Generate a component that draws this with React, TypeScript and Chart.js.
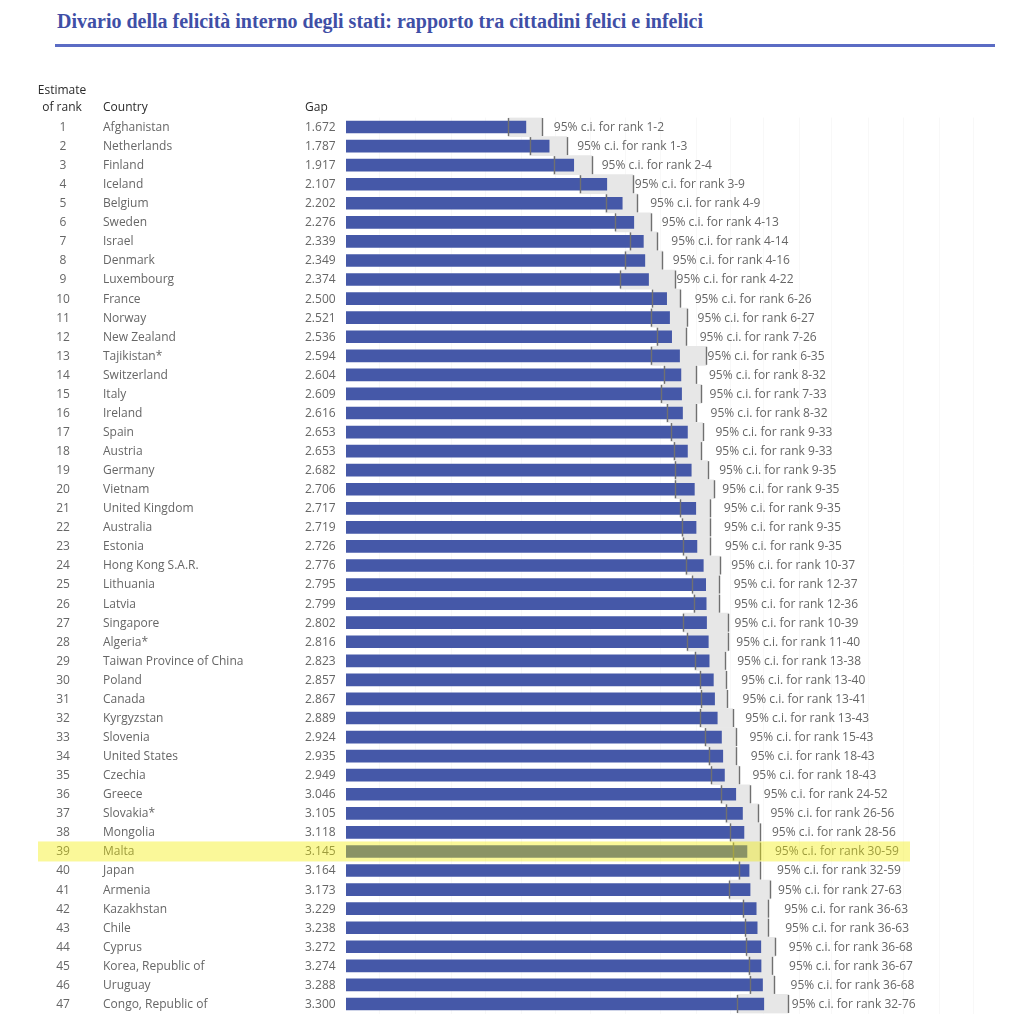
import React, { useEffect, useRef } from "react";
import { Chart, registerables } from "chart.js";

Chart.register(...registerables);

const ranks = [1, 2, 3, 4, 5, 6, 7, 8, 9, 10, 11, 12, 13, 14, 15, 16, 17, 18, 19, 20, 21, 22, 23, 24, 25, 26, 27, 28, 29, 30, 31, 32, 33, 34, 35, 36, 37, 38, 39, 40, 41, 42, 43, 44, 45, 46, 47];

const countries = [
  "Afghanistan", "Netherlands", "Finland", "Iceland", "Belgium", "Sweden", "Israel", "Denmark",
  "Luxembourg", "France", "Norway", "New Zealand", "Tajikistan*", "Switzerland", "Italy", "Ireland",
  "Spain", "Austria", "Germany", "Vietnam", "United Kingdom", "Australia", "Estonia", "Hong Kong S.A.R.",
  "Lithuania", "Latvia", "Singapore", "Algeria*", "Taiwan Province of China", "Poland", "Canada",
  "Kyrgyzstan", "Slovenia", "United States", "Czechia", "Greece", "Slovakia*", "Mongolia", "Malta",
  "Japan", "Armenia", "Kazakhstan", "Chile", "Cyprus", "Korea, Republic of", "Uruguay", "Congo, Republic of",
];

const gaps = [
  1.672, 1.787, 1.917, 2.107, 2.202, 2.276, 2.339, 2.349, 2.374, 2.5, 2.521, 2.536, 2.594, 2.604,
  2.609, 2.616, 2.653, 2.653, 2.682, 2.706, 2.717, 2.719, 2.726, 2.776, 2.795, 2.799, 2.802, 2.816,
  2.823, 2.857, 2.867, 2.889, 2.924, 2.935, 2.949, 3.046, 3.105, 3.118, 3.145, 3.164, 3.173, 3.229,
  3.238, 3.272, 3.274, 3.288, 3.3,
];

const ciLow = [
  1.59, 1.69, 1.81, 1.95, 2.1, 2.16, 2.25, 2.22, 2.19, 2.4, 2.39, 2.43, 2.39, 2.48, 2.46, 2.5,
  2.53, 2.55, 2.56, 2.56, 2.6, 2.61, 2.62, 2.64, 2.69, 2.7, 2.62, 2.65, 2.71, 2.75, 2.76, 2.75,
  2.79, 2.82, 2.84, 2.92, 2.96, 3.0, 3.02, 3.07, 2.99, 3.11, 3.13, 3.14, 3.16, 3.17, 3.06,
];

const ciHigh = [
  1.75, 1.88, 2.02, 2.27, 2.3, 2.39, 2.43, 2.47, 2.56, 2.6, 2.65, 2.64, 2.8, 2.72, 2.76, 2.72,
  2.77, 2.76, 2.81, 2.86, 2.83, 2.83, 2.83, 2.91, 2.9, 2.9, 2.98, 2.98, 2.95, 2.96, 2.97, 3.02,
  3.05, 3.05, 3.07, 3.17, 3.25, 3.26, 3.26, 3.26, 3.36, 3.34, 3.34, 3.41, 3.38, 3.4, 3.54,
];

const rankLow = [
  1, 1, 2, 3, 4, 4, 4, 4, 4, 6, 6, 7, 6, 8, 7, 8, 9, 9, 9, 9, 9, 9, 9, 10, 12, 12, 10, 11, 13, 13,
  13, 13, 15, 18, 18, 24, 26, 28, 30, 32, 27, 36, 36, 36, 36, 36, 32,
];

const rankHigh = [
  2, 3, 4, 9, 9, 13, 14, 16, 22, 26, 27, 26, 35, 32, 33, 32, 33, 33, 35, 35, 35, 35, 35, 37, 37, 36,
  39, 40, 38, 40, 41, 43, 43, 43, 43, 52, 56, 56, 59, 59, 63, 63, 63, 68, 67, 68, 76,
];

const gridValues = [1.1, 1.22, 1.35, 1.49, 1.65, 1.82, 2.01, 2.22, 2.46, 2.72, 3.0, 3.3, 3.65, 4.0, 4.45, 4.92, 5.45, 6.0];

const highlightCountry = "Malta";
const TITLE = "Divario della felicità interno degli stati: rapporto tra cittadini felici e infelici";

const SANS = '"Open Sans", "Noto Sans", sans-serif';
const BAR_BLUE = "#4558a8";
const BAND_GRAY = "#e7e7e7";

const tablePlugin = {
  id: "tableText",
  afterDatasetsDraw(chart: any) {
    const ctx = chart.ctx as CanvasRenderingContext2D;
    const xs = chart.scales.x;
    const ys = chart.scales.y;
    ctx.save();

    // CI tick marks
    ctx.strokeStyle = "#707070";
    ctx.lineWidth = 1.4;
    for (let i = 0; i < gaps.length; i++) {
      const yc = ys.getPixelForValue(i);
      for (const v of [ciLow[i], ciHigh[i]]) {
        const px = Math.round(xs.getPixelForValue(v)) + 0.5;
        ctx.beginPath();
        ctx.moveTo(px, yc - 9);
        ctx.lineTo(px, yc + 9);
        ctx.stroke();
      }
    }

    // CI labels
    ctx.font = `12px ${SANS}`;
    ctx.textBaseline = "middle";
    ctx.fillStyle = "#666666";
    ctx.textAlign = "left";
    for (let i = 0; i < gaps.length; i++) {
      const yc = ys.getPixelForValue(i);
      const px = xs.getPixelForValue(gaps[i]) + 28;
      ctx.fillText(`95% c.i. for rank ${rankLow[i]}-${rankHigh[i]}`, px, yc + 0.5);
    }

    // table columns
    ctx.fillStyle = "#666666";
    for (let i = 0; i < gaps.length; i++) {
      const yc = ys.getPixelForValue(i) + 0.5;
      ctx.textAlign = "center";
      ctx.fillText(String(ranks[i]), 63, yc);
      ctx.textAlign = "left";
      ctx.fillText(countries[i], 103, yc);
      ctx.fillText(gaps[i].toFixed(3), 305, yc);
    }

    // headers
    ctx.fillStyle = "#2a2a2a";
    ctx.textAlign = "center";
    ctx.fillText("Estimate", 62, 91);
    ctx.fillText("of rank", 62, 108);
    ctx.textAlign = "left";
    ctx.fillText("Country", 103, 108);
    ctx.fillText("Gap", 305, 108);

    // highlight row
    const hi = countries.indexOf(highlightCountry);
    if (hi >= 0) {
      const yc = ys.getPixelForValue(hi);
      ctx.fillStyle = "rgba(242, 237, 0, 0.4)";
      ctx.fillRect(38, yc - 10, 872, 20);
    }
    ctx.restore();
  },
};

export default function App() {
  const canvasRef = useRef<HTMLCanvasElement | null>(null);

  useEffect(() => {
    if (!canvasRef.current) return;
    const chart = new Chart(canvasRef.current, {
      type: "bar",
      data: {
        labels: countries,
        datasets: [
          {
            label: "Gap",
            data: gaps,
            backgroundColor: BAR_BLUE,
            barThickness: 12,
            grouped: false,
            order: 0,
          } as any,
          {
            label: "95% c.i.",
            data: ciLow.map((l, i) => [l, ciHigh[i]]),
            backgroundColor: BAND_GRAY,
            barPercentage: 1,
            categoryPercentage: 1,
            grouped: false,
            order: 1,
          } as any,
        ],
      },
      options: {
        indexAxis: "y",
        responsive: false,
        animation: false,
        devicePixelRatio: 1,
        layout: { padding: { left: 346, right: 51, top: 117.5, bottom: 10.5 } },
        plugins: { legend: { display: false }, tooltip: { enabled: false }, title: { display: false } },
        scales: {
          x: {
            type: "logarithmic",
            min: 1,
            max: 6,
            afterBuildTicks: (scale: any) => {
              scale.ticks = gridValues.map((v) => ({ value: v }));
            },
            ticks: { display: false },
            grid: { color: "rgba(0,0,0,0.028)", drawTicks: false },
            border: { display: false },
          },
          y: { display: false },
        },
      } as any,
      plugins: [tablePlugin],
    });
    return () => chart.destroy();
  }, []);

  return (
    <div style={{ position: "absolute", left: 0, top: 0, width: 1024, height: 1024, background: "#fff" }}>
      <div
        style={{
          position: "absolute",
          left: 57,
          top: 9,
          fontFamily: '"Liberation Serif", "DejaVu Serif", serif',
          fontWeight: "bold",
          fontSize: 20,
          lineHeight: "24px",
          color: "#3f4fa6",
          whiteSpace: "nowrap",
        }}
      >
        {TITLE}
      </div>
      <div style={{ position: "absolute", left: 55, top: 44, width: 940, height: 3, background: "#5b6cc4" }} />
      <canvas ref={canvasRef} width={1024} height={1024} style={{ position: "absolute", left: 0, top: 0, display: "block" }} />
    </div>
  );
}
